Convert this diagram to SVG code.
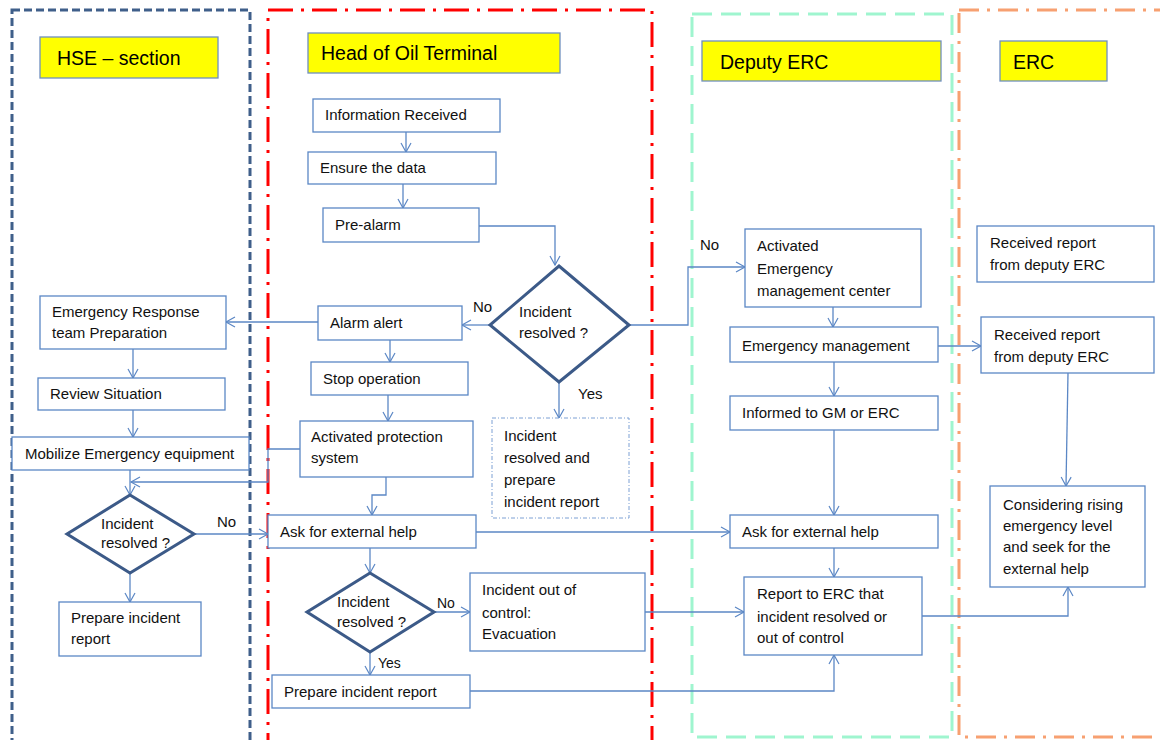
<svg xmlns="http://www.w3.org/2000/svg" width="1160" height="740" viewBox="0 0 1160 740">
  <defs>
    <marker id="arrow" markerUnits="userSpaceOnUse" markerWidth="12" markerHeight="12" refX="10" refY="6" orient="auto">
      <path d="M1,1 L10,6 L1,11" fill="none" stroke="#5b87c5" stroke-width="1.2"/>
    </marker>
    <style>
      .lane { fill: none; stroke-width: 3; }
      .title rect { fill: #ffff00; stroke: #6f8fbf; stroke-width: 1.3; }
      .title text { font-family: "Liberation Sans", Arial, sans-serif; font-size: 19.5px; fill: #000; }
      .box rect { fill: #fff; stroke: #5b87c5; stroke-width: 1.3; }
      .dec polygon { fill: #fff; stroke: #3c5a88; stroke-width: 3; stroke-linejoin: miter; }
      text { font-family: "Liberation Sans", Arial, sans-serif; font-size: 15px; fill: #111; }
      .lbl { font-size: 15px; }
      .conn path { fill: none; stroke: #5b87c5; stroke-width: 1.3; }
      .conn .arr { marker-end: url(#arrow); }
    </style>
  </defs>
  <rect width="1160" height="740" fill="#fff"/>

  <!-- swim lanes -->
  <g id="lanes">
    <rect class="lane" x="12" y="10" width="238" height="760" stroke="#3f5f8a" stroke-dasharray="8 4"/>
    <rect class="lane" x="268" y="10" width="384" height="760" stroke="#ff0000" stroke-dasharray="25 8 3 8"/>
    <rect class="lane" x="692" y="14" width="260" height="723" stroke="#9ff5cf" stroke-dasharray="20 9"/>
    <rect class="lane" x="959" y="10" width="240" height="727" stroke="#f7a071" stroke-dasharray="20 8 3 8"/>
  </g>

  <!-- lane headings -->
  <g id="title-hse" class="title"><rect x="40" y="37" width="178" height="41"/><text x="57" y="65">HSE – section</text></g>
  <g id="title-hot" class="title"><rect x="308" y="33" width="252" height="40"/><text x="321" y="60">Head of Oil Terminal</text></g>
  <g id="title-derc" class="title"><rect x="702" y="41" width="239" height="40"/><text x="720" y="69">Deputy ERC</text></g>
  <g id="title-erc" class="title"><rect x="1000" y="41" width="107" height="40"/><text x="1013" y="69">ERC</text></g>

  <!-- connectors -->
  <g id="connectors" class="conn">
    <path class="arr" d="M406,132 V152"/>
    <path class="arr" d="M403,184 V208"/>
    <path class="arr" d="M479,226 H555 V265"/>
    <path class="arr" d="M490,325 H462"/>
    <path class="arr" d="M559,382 V418"/>
    <path class="arr" d="M629,325 H688 V267 H745"/>
    <path class="arr" d="M318,322 H226"/>
    <path class="arr" d="M390,340 V362"/>
    <path class="arr" d="M388,395 V421"/>
    <path class="arr" d="M386,477 V495 H372 V515"/>
    <path class="arr" d="M300,449 H268 V482 H131"/>
    <path class="arr" d="M130,470 V495"/>
    <path class="arr" d="M133,349 V378"/>
    <path class="arr" d="M133,410 V437"/>
    <path class="arr" d="M194,534 H268"/>
    <path class="arr" d="M130,573 V602"/>
    <path class="arr" d="M370,548 V573"/>
    <path class="arr" d="M434,612 H470"/>
    <path class="arr" d="M645,612 H744"/>
    <path class="arr" d="M370,652 V675"/>
    <path class="arr" d="M470,691 H834 V655"/>
    <path class="arr" d="M476,532 H730"/>
    <path class="arr" d="M833,307 V327"/>
    <path class="arr" d="M834,362 V396"/>
    <path class="arr" d="M834,430 V515"/>
    <path class="arr" d="M834,548 V577"/>
    <path class="arr" d="M938,346 H981"/>
    <path class="arr" d="M922,616 H1068 V587"/>
    <path class="arr" d="M1068,373 L1066,486"/>
  </g>

  <!-- connector labels -->
  <g id="labels">
    <text class="lbl" x="473" y="312">No</text>
    <text class="lbl" x="578" y="399">Yes</text>
    <text class="lbl" x="700" y="250">No</text>
    <text class="lbl" x="217" y="527">No</text>
    <text class="lbl" x="437" y="608" style="font-size:14px">No</text>
    <text class="lbl" x="378" y="668" style="font-size:14px">Yes</text>
  </g>

  <!-- HSE section -->
  <g id="n-er-team" class="box"><rect x="40" y="296" width="186" height="53"/><text x="52" y="317">Emergency Response</text><text x="52" y="338">team Preparation</text></g>
  <g id="n-review" class="box"><rect x="38" y="378" width="187" height="32"/><text x="50" y="399">Review Situation</text></g>
  <g id="n-mobilize" class="box"><rect x="12" y="437" width="237" height="33"/><text x="25" y="459">Mobilize Emergency equipment</text></g>
  <g id="n-hse-decision" class="dec"><polygon points="130,495 194,534 130,573 67,534"/><text x="101" y="529">Incident</text><text x="101" y="548">resolved ?</text></g>
  <g id="n-hse-report" class="box"><rect x="59" y="602" width="142" height="54"/><text x="71" y="623">Prepare incident</text><text x="71" y="644">report</text></g>

  <!-- Head of Oil Terminal -->
  <g id="n-info" class="box"><rect x="313" y="99" width="187" height="33"/><text x="325" y="120">Information Received</text></g>
  <g id="n-ensure" class="box"><rect x="308" y="152" width="188" height="32"/><text x="320" y="173">Ensure the data</text></g>
  <g id="n-prealarm" class="box"><rect x="323" y="208" width="156" height="34"/><text x="335" y="230">Pre-alarm</text></g>
  <g id="n-decision-1" class="dec"><polygon points="559,266 629,325 559,382 490,325"/><text x="519" y="317">Incident</text><text x="519" y="338">resolved ?</text></g>
  <g id="n-alarm" class="box"><rect x="318" y="306" width="144" height="34"/><text x="330" y="328">Alarm  alert</text></g>
  <g id="n-stop" class="box"><rect x="311" y="362" width="157" height="33"/><text x="323" y="384">Stop operation</text></g>
  <g id="n-protect" class="box"><rect x="300" y="421" width="173" height="56"/><text x="311" y="442">Activated protection</text><text x="311" y="463">system</text></g>
  <g id="n-resolved" class="box"><rect x="492" y="418" width="137" height="100" stroke-dasharray="4 2 1 2" style="stroke:#7da0d4;stroke-width:1"/><text x="504" y="441">Incident</text><text x="504" y="463">resolved  and</text><text x="504" y="485">prepare</text><text x="504" y="507">incident  report</text></g>
  <g id="n-ask-hot" class="box"><rect x="268" y="515" width="208" height="33"/><text x="280" y="537">Ask for external help</text></g>
  <g id="n-decision-2" class="dec"><polygon points="370,573 434,612 370,652 307,612"/><text x="337" y="607">Incident</text><text x="337" y="627">resolved ?</text></g>
  <g id="n-evac" class="box"><rect x="470" y="573" width="175" height="78"/><text x="482" y="595">Incident  out of</text><text x="482" y="618">control:</text><text x="482" y="639">Evacuation</text></g>
  <g id="n-hot-report" class="box"><rect x="272" y="675" width="198" height="33"/><text x="284" y="697">Prepare  incident  report</text></g>

  <!-- Deputy ERC -->
  <g id="n-emc" class="box"><rect x="745" y="229" width="176" height="78"/><text x="757" y="251">Activated</text><text x="757" y="274">Emergency</text><text x="757" y="296">management  center</text></g>
  <g id="n-em" class="box"><rect x="730" y="327" width="208" height="35"/><text x="742" y="351">Emergency  management</text></g>
  <g id="n-informed" class="box"><rect x="730" y="396" width="208" height="34"/><text x="742" y="418">Informed to GM or ERC</text></g>
  <g id="n-ask-derc" class="box"><rect x="730" y="515" width="208" height="33"/><text x="742" y="537">Ask for external help</text></g>
  <g id="n-report-erc" class="box"><rect x="744" y="577" width="178" height="78"/><text x="757" y="599">Report to ERC that</text><text x="757" y="622">incident  resolved or</text><text x="757" y="643">out of control</text></g>

  <!-- ERC -->
  <g id="n-received-1" class="box"><rect x="977" y="226" width="177" height="56"/><text x="990" y="248">Received report</text><text x="990" y="270">from deputy  ERC</text></g>
  <g id="n-received-2" class="box"><rect x="981" y="317" width="173" height="56"/><text x="994" y="340">Received report</text><text x="994" y="362">from deputy  ERC</text></g>
  <g id="n-considering" class="box"><rect x="990" y="486" width="155" height="101"/><text x="1003" y="510">Considering  rising</text><text x="1003" y="531">emergency  level</text><text x="1003" y="552">and seek for the</text><text x="1003" y="574">external help</text></g>
</svg>
